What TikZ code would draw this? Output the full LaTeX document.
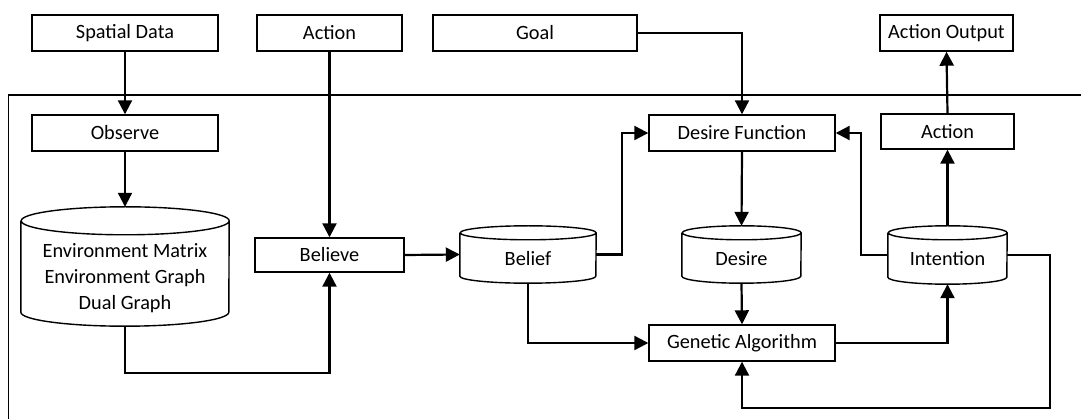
\documentclass[tikz,border=0pt]{standalone}
\usepackage{fontspec}
\setmainfont{Carlito}
\usetikzlibrary{arrows.meta}
\tikzset{
  box/.style={draw, line width=1.4pt, inner sep=0pt, minimum height=36pt, font=\fontsize{20.3}{24}\selectfont},
  cylbox/.style={inner sep=0pt},
  lbl/.style={inner sep=0pt, align=center, font=\fontsize{20.3}{26}\selectfont},
  conn/.style={line width=2.2pt, -{Triangle[width=14pt,length=14pt]}},
  frame/.style={line width=1.4pt},
  cylline/.style={line width=1.4pt}
}
\newcommand\drawcyl[3]{% name, half width, ry
  \draw[cylline] ([yshift=-#3]#1.north west) -- ([yshift=#3]#1.south west)
    arc[start angle=180,end angle=360,x radius=#2,y radius=#3]
    -- ([yshift=-#3]#1.north east)
    arc[start angle=0,end angle=180,x radius=#2,y radius=#3]
    arc[start angle=180,end angle=360,x radius=#2,y radius=#3];
}
\begin{document}
\begin{tikzpicture}[x=1pt,y=-1pt]
\useasboundingbox (0,0) rectangle (1081,419);
% frame
\draw[frame] (1082,95) -- (8.5,95) -- (8.5,420);
% boxes
\node[box, minimum width=186pt] (sd) at (125,33) {Spatial Data};
\node[box, minimum width=145pt] (act1) at (329.5,33) {Action};
\node[box, minimum width=204pt] (goal) at (535,33) {Goal};
\node[box, minimum width=133pt] (out) at (946.5,33) {Action Output};
\node[box, minimum width=186pt] (obs) at (125,133) {Observe};
\node[box, minimum width=186pt] (df) at (742,133) {Desire Function};
\node[box, minimum width=133pt, minimum height=35pt] (act2) at (947.5,131.5) {Action};
\node[box, minimum width=149pt, minimum height=34pt] (believe) at (329.5,255) {Believe};
\node[box, minimum width=186pt] (ga) at (742,343) {Genetic Algorithm};
% cylinders
\node[cylbox, minimum width=208pt, minimum height=119pt] (env) at (125,266.5) {};
\drawcyl{env}{104pt}{14pt}
\node[lbl] (envtxt) at (125,278) {Environment Matrix\\Environment Graph\\Dual Graph};
\node[cylbox, minimum width=136pt, minimum height=57pt] (belief) at (528,254.5) {};
\drawcyl{belief}{68pt}{7pt}
\node[lbl] (belieftxt) at (528,259) {Belief};
\node[cylbox, minimum width=119pt, minimum height=57pt] (desire) at (741.5,254.5) {};
\drawcyl{desire}{59.5pt}{7pt}
\node[lbl] (desiretxt) at (741.5,259) {Desire};
\node[cylbox, minimum width=119pt, minimum height=58pt] (intention) at (947.5,255) {};
\drawcyl{intention}{59.5pt}{7pt}
\node[lbl] (intentiontxt) at (947.5,259) {Intention};
% connectors
\draw[conn] (sd.south) -- (obs.north);
\draw[conn] (obs.south) -- (env.north);
\draw[conn] (act1.south) -- (believe.north);
\draw[conn] (env.south) -- ++(0,47) -| (believe.south);
\draw[conn] (believe.east) -- (belief.west);
\draw[conn] (belief.east) -- ++(26,0) |- (df.west);
\draw[conn] (belief.south) |- (ga.west);
\draw[conn] (goal.east) -| (df.north);
\draw[conn] (df.south) -- (desire.north);
\draw[conn] (desire.south) -- (ga.north);
\draw[conn] (ga.east) -| (intention.south);
\draw[conn] (intention.west) -- ++(-27,0) |- (df.east);
\draw[conn] (intention.north) -- (act2.south);
\draw[conn] (act2.north) -- (out.south);
\draw[conn] (intention.east) -- ++(43,0) -- ++(0,153) -| (ga.south);
\end{tikzpicture}
\end{document}
